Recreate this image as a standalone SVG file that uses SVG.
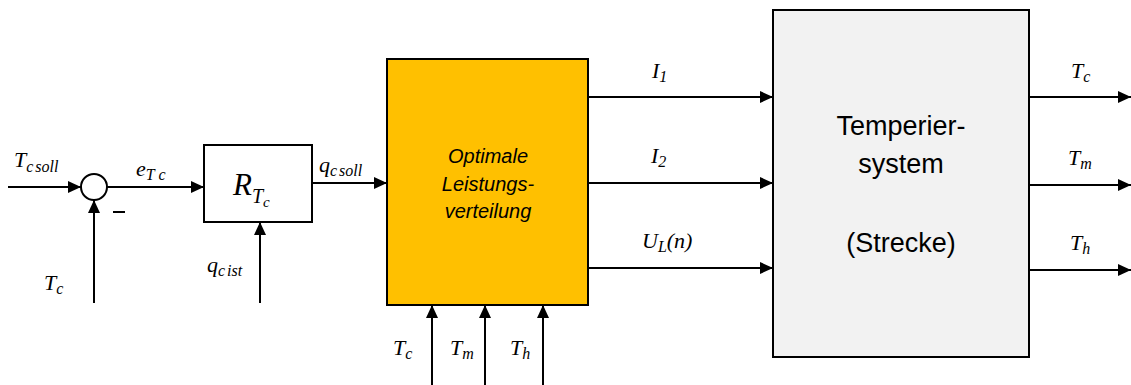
<svg xmlns="http://www.w3.org/2000/svg" width="1131" height="385" viewBox="0 0 1131 385">
<style>
.ln{stroke:#000;stroke-width:2;fill:none}
.m{font-family:"Liberation Serif","DejaVu Serif",serif;font-style:italic;font-size:22px;fill:#000}
.s{font-size:16px}
.box{stroke:#000;stroke-width:2}
.sans{font-family:"Liberation Sans","Open Sans",sans-serif;fill:#000}
</style>
<defs>
<marker id="ah" markerUnits="userSpaceOnUse" markerWidth="14" markerHeight="12" refX="13" refY="6" orient="auto">
<path d="M0,0 L13,6 L0,12 z" fill="#000"/>
</marker>
</defs>
<rect width="1131" height="385" fill="#fff"/>
<g id="connectors">
<line class="ln" x1="8" y1="187" x2="81" y2="187" marker-end="url(#ah)"/>
<line class="ln" x1="107" y1="187" x2="204" y2="187" marker-end="url(#ah)"/>
<line class="ln" x1="94" y1="303" x2="94" y2="200" marker-end="url(#ah)"/>
<line class="ln" x1="312" y1="183" x2="387" y2="183" marker-end="url(#ah)"/>
<line class="ln" x1="260" y1="303" x2="260" y2="222" marker-end="url(#ah)"/>
<line class="ln" x1="432" y1="385" x2="432" y2="305" marker-end="url(#ah)"/>
<line class="ln" x1="485" y1="385" x2="485" y2="305" marker-end="url(#ah)"/>
<line class="ln" x1="543" y1="385" x2="543" y2="305" marker-end="url(#ah)"/>
<line class="ln" x1="588" y1="97" x2="773" y2="97" marker-end="url(#ah)"/>
<line class="ln" x1="588" y1="183" x2="773" y2="183" marker-end="url(#ah)"/>
<line class="ln" x1="588" y1="268" x2="773" y2="268" marker-end="url(#ah)"/>
<line class="ln" x1="1029" y1="97" x2="1131" y2="97" marker-end="url(#ah)"/>
<line class="ln" x1="1029" y1="185" x2="1131" y2="185" marker-end="url(#ah)"/>
<line class="ln" x1="1029" y1="270" x2="1131" y2="270" marker-end="url(#ah)"/>
<line class="ln" x1="113" y1="212" x2="125" y2="212" stroke-width="1.3"/>
<text class="m" x="14" y="167">T<tspan class="s" dy="5">c</tspan><tspan class="s" dx="2">soll</tspan></text>
<text class="m" x="136" y="176">e<tspan class="s" dy="4">T c</tspan></text>
<text class="m" x="44" y="290">T<tspan class="s" dy="4">c</tspan></text>
<text class="m" x="319" y="172">q<tspan class="s" dy="4">c</tspan><tspan class="s" dx="2">soll</tspan></text>
<text class="m" x="207" y="272">q<tspan class="s" dy="4">c</tspan><tspan class="s" dx="2">ist</tspan></text>
<text class="m" x="393" y="355">T<tspan class="s" dy="4">c</tspan></text>
<text class="m" x="450" y="355">T<tspan class="s" dy="4">m</tspan></text>
<text class="m" x="510" y="355">T<tspan class="s" dy="4">h</tspan></text>
<text class="m" x="652" y="78">I<tspan class="s" dy="4">1</tspan></text>
<text class="m" x="651" y="163">I<tspan class="s" dy="4">2</tspan></text>
<text class="m" x="642" y="248">U<tspan class="s" dy="4">L</tspan><tspan dy="-4">(n)</tspan></text>
<text class="m" x="1071" y="78">T<tspan class="s" dy="4">c</tspan></text>
<text class="m" x="1068" y="165">T<tspan class="s" dy="4">m</tspan></text>
<text class="m" x="1070" y="250">T<tspan class="s" dy="4">h</tspan></text>
</g>
<g id="sum">
<circle cx="94" cy="187" r="13" fill="#fff" class="box"/>
</g>
<g id="controller">
<rect x="204" y="145" width="108" height="77" fill="#fff" class="box"/>
<text class="m" x="233" y="195" style="font-size:31px">R<tspan style="font-size:20px" dy="8">T</tspan><tspan style="font-size:15px" dy="4">c</tspan></text>
</g>
<g id="optimizer">
<rect x="387" y="59" width="201" height="246" fill="#FFC000" class="box"/>
<text class="sans" x="488" y="163" text-anchor="middle" font-style="italic" font-size="20">Optimale</text>
<text class="sans" x="488" y="191" text-anchor="middle" font-style="italic" font-size="20">Leistungs-</text>
<text class="sans" x="488" y="218" text-anchor="middle" font-style="italic" font-size="20">verteilung</text>
</g>
<g id="plant">
<rect x="773" y="10" width="256" height="347" fill="#F2F2F2" class="box"/>
<text class="sans" x="901" y="135" text-anchor="middle" font-size="27">Temperier-</text>
<text class="sans" x="901" y="173" text-anchor="middle" font-size="27">system</text>
<text class="sans" x="901" y="252" text-anchor="middle" font-size="27">(Strecke)</text>
</g>
</svg>
